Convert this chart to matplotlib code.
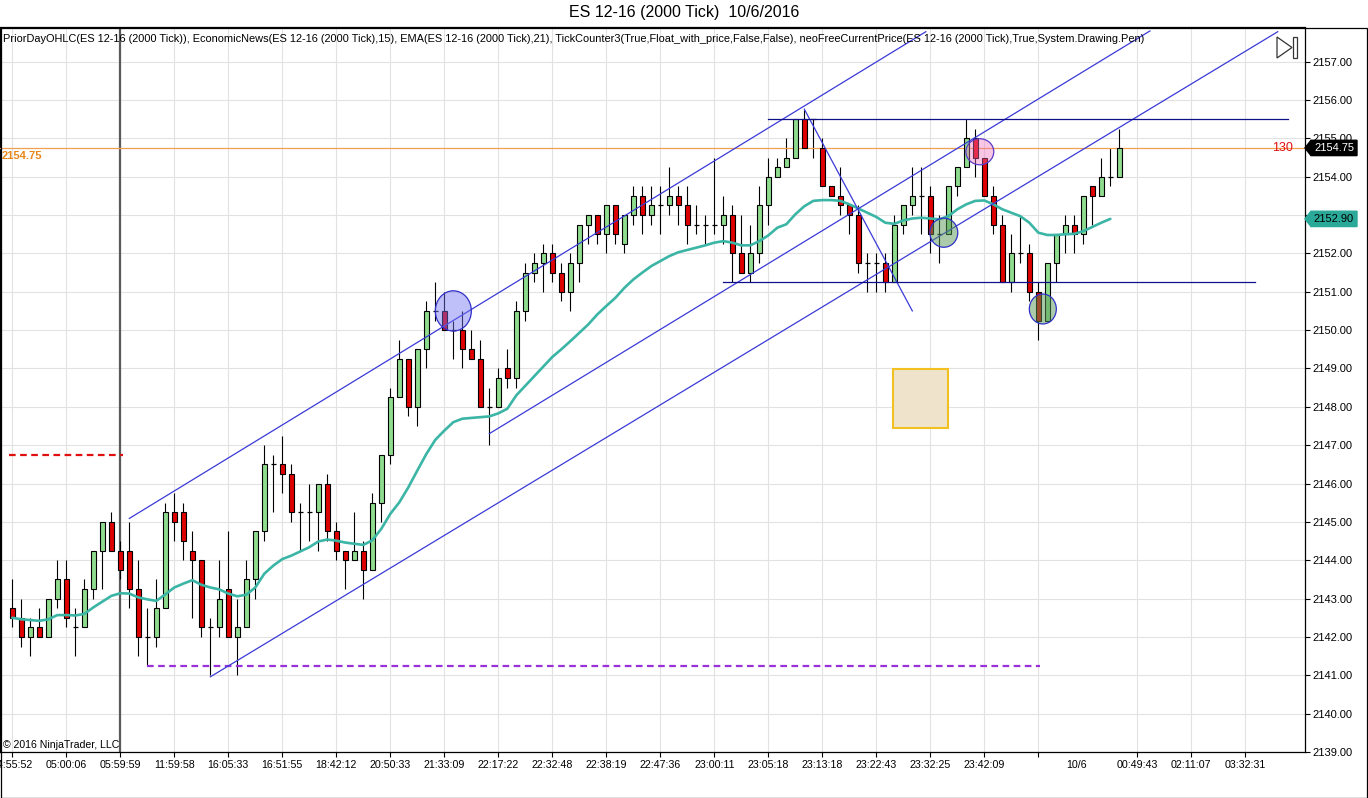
import numpy as np
import matplotlib
matplotlib.use('Agg')
import matplotlib.pyplot as plt
import matplotlib.patches as patches

plt.rcParams['font.family'] = ['Liberation Sans', 'DejaVu Sans']

# --------------------------
# Bars (2000 tick)
# --------------------------
opens = [2142.75, 2142.5, 2142.0, 2142.25, 2142.0, 2143.0, 2143.5, 2142.25, 2142.25, 2143.25,
         2144.25, 2145.0, 2144.25, 2144.25, 2143.25, 2142.0, 2142.0, 2142.75, 2145.25, 2145.25,
         2144.25, 2144.0, 2142.25, 2142.25, 2143.25, 2142.0, 2142.25, 2143.5, 2144.75, 2146.5,
         2146.5, 2146.25, 2145.25, 2145.25, 2145.25, 2146.0, 2144.75, 2144.25, 2144.0, 2144.25,
         2143.75, 2145.5, 2146.75, 2148.25, 2149.25, 2148.0, 2149.5, 2150.5, 2150.5, 2150.0,
         2150.0, 2149.5, 2149.25, 2148.0, 2148.0, 2149.0, 2148.75, 2150.5, 2151.5, 2151.75,
         2152.0, 2151.5, 2151.0, 2151.75, 2152.75, 2153.0, 2152.5, 2153.25, 2152.25, 2153.0,
         2153.5, 2153.0, 2153.25, 2153.25, 2153.5, 2153.25, 2152.75, 2152.75, 2152.75, 2152.75,
         2153.0, 2152.0, 2151.5, 2152.0, 2153.25, 2154.0, 2154.25, 2154.5, 2155.5, 2155.5,
         2154.75, 2153.75, 2153.5, 2153.25, 2153.0, 2151.75, 2151.75, 2151.75, 2151.25, 2152.75,
         2153.25, 2153.5, 2153.5, 2152.5, 2152.5, 2153.75, 2154.25, 2155.0, 2154.5, 2153.5,
         2152.75, 2151.25, 2152.0, 2152.0, 2151.0, 2150.25, 2151.75, 2152.5, 2152.75, 2152.5,
         2153.75, 2153.5, 2154.0, 2154.0]
highs = [2143.5, 2143.0, 2142.5, 2142.75, 2143.0, 2144.0, 2144.0, 2142.75, 2143.5, 2144.25,
         2145.0, 2145.25, 2144.5, 2145.0, 2144.0, 2142.75, 2143.5, 2145.5, 2145.75, 2145.5,
         2144.75, 2144.0, 2142.5, 2144.0, 2144.75, 2143.0, 2144.0, 2144.75, 2147.0, 2146.75,
         2147.25, 2146.5, 2145.5, 2146.0, 2146.0, 2146.25, 2145.0, 2144.25, 2145.25, 2144.5,
         2145.75, 2146.75, 2148.5, 2149.75, 2149.25, 2149.5, 2150.75, 2151.25, 2151.0, 2150.25,
         2150.5, 2150.0, 2149.75, 2148.5, 2149.0, 2149.5, 2150.75, 2151.75, 2152.0, 2152.25,
         2152.25, 2151.75, 2152.0, 2152.75, 2153.0, 2153.0, 2153.25, 2153.25, 2153.0, 2153.75,
         2153.75, 2153.75, 2153.75, 2154.25, 2153.75, 2153.75, 2153.25, 2153.0, 2154.5, 2153.5,
         2153.25, 2153.0, 2152.75, 2153.75, 2154.5, 2154.5, 2155.0, 2155.5, 2155.75, 2155.5,
         2155.0, 2153.75, 2154.25, 2153.25, 2153.25, 2152.0, 2152.0, 2152.0, 2153.0, 2153.25,
         2154.25, 2154.25, 2153.75, 2153.0, 2153.75, 2154.25, 2155.5, 2155.25, 2154.5, 2153.75,
         2153.0, 2152.5, 2153.0, 2152.25, 2151.25, 2151.75, 2152.5, 2153.0, 2153.0, 2153.5,
         2153.75, 2154.5, 2154.75, 2155.25]
lows = [2142.25, 2141.75, 2141.5, 2142.0, 2142.0, 2142.75, 2142.25, 2141.5, 2142.25, 2143.0,
        2143.25, 2144.25, 2143.5, 2142.75, 2141.5, 2141.25, 2141.75, 2142.75, 2144.5, 2144.0,
        2142.5, 2142.0, 2141.0, 2142.0, 2142.0, 2141.0, 2142.25, 2143.0, 2144.5, 2145.25,
        2145.75, 2145.0, 2144.25, 2144.5, 2144.25, 2144.5, 2144.0, 2143.25, 2144.0, 2143.0,
        2143.75, 2145.0, 2146.5, 2148.25, 2147.75, 2147.5, 2149.0, 2150.25, 2150.0, 2149.25,
        2149.0, 2149.25, 2148.0, 2147.0, 2148.0, 2148.5, 2148.5, 2150.25, 2151.25, 2151.0,
        2151.25, 2150.75, 2150.5, 2151.25, 2152.25, 2152.25, 2152.0, 2152.25, 2152.0, 2152.75,
        2152.5, 2152.75, 2152.5, 2153.0, 2152.75, 2152.25, 2152.5, 2152.25, 2152.5, 2152.25,
        2151.25, 2151.5, 2151.25, 2151.75, 2152.75, 2154.0, 2154.25, 2154.5, 2154.75, 2154.5,
        2153.75, 2153.5, 2153.0, 2152.5, 2151.5, 2151.0, 2151.0, 2151.0, 2151.25, 2152.5,
        2153.0, 2152.5, 2152.0, 2151.75, 2152.5, 2153.5, 2154.25, 2154.0, 2153.5, 2152.5,
        2151.25, 2151.0, 2151.75, 2150.75, 2149.75, 2150.25, 2151.25, 2152.0, 2152.0, 2152.25,
        2152.75, 2153.5, 2153.75, 2154.0]
closes = [2142.5, 2142.0, 2142.25, 2142.0, 2143.0, 2143.5, 2142.5, 2142.25, 2143.25, 2144.25,
          2145.0, 2144.25, 2143.75, 2143.25, 2142.0, 2142.0, 2142.75, 2145.25, 2145.0, 2144.5,
          2144.0, 2142.25, 2142.25, 2143.0, 2142.0, 2142.25, 2143.5, 2144.75, 2146.5, 2146.5,
          2146.25, 2145.25, 2145.25, 2145.25, 2146.0, 2144.75, 2144.25, 2144.0, 2144.25, 2143.75,
          2145.5, 2146.75, 2148.25, 2149.25, 2148.0, 2149.5, 2150.5, 2150.5, 2150.0, 2150.0,
          2149.5, 2149.25, 2148.0, 2148.0, 2148.75, 2148.75, 2150.5, 2151.5, 2151.75, 2152.0,
          2151.5, 2151.0, 2151.75, 2152.75, 2153.0, 2152.5, 2153.25, 2152.5, 2153.0, 2153.5,
          2153.0, 2153.25, 2153.25, 2153.5, 2153.25, 2152.75, 2152.75, 2152.75, 2152.75, 2153.0,
          2152.0, 2151.5, 2152.0, 2153.25, 2154.0, 2154.25, 2154.5, 2155.5, 2154.75, 2155.5,
          2153.75, 2153.5, 2153.25, 2153.0, 2151.75, 2151.75, 2151.75, 2151.25, 2152.75, 2153.25,
          2153.5, 2153.5, 2152.5, 2152.5, 2153.75, 2154.25, 2155.0, 2154.5, 2153.5, 2152.75,
          2151.25, 2152.0, 2152.0, 2151.0, 2150.25, 2151.75, 2152.5, 2152.75, 2152.5, 2153.5,
          2153.5, 2154.0, 2154.0, 2154.75]

# EMA(21) as plotted (no value on the forming bar)
ema21 = [2142.5, 2142.46, 2142.44, 2142.42, 2142.46, 2142.57, 2142.57, 2142.56, 2142.6, 2142.77,
         2142.92, 2143.07, 2143.14, 2143.13, 2143.03, 2142.98, 2142.94, 2143.11, 2143.29, 2143.39,
         2143.48, 2143.36, 2143.29, 2143.24, 2143.13, 2143.06, 2143.1, 2143.29, 2143.65, 2143.86,
         2144.03, 2144.12, 2144.23, 2144.34, 2144.49, 2144.54, 2144.51, 2144.46, 2144.43, 2144.4,
         2144.52, 2144.82, 2145.21, 2145.51, 2145.9, 2146.34, 2146.77, 2147.14, 2147.38, 2147.6,
         2147.69, 2147.71, 2147.73, 2147.75, 2147.83, 2147.95, 2148.3, 2148.55, 2148.8, 2149.05,
         2149.3, 2149.5, 2149.71, 2149.93, 2150.15, 2150.41, 2150.63, 2150.84, 2151.1, 2151.32,
         2151.5, 2151.67, 2151.8, 2151.93, 2152.03, 2152.09, 2152.15, 2152.21, 2152.28, 2152.32,
         2152.28, 2152.21, 2152.21, 2152.32, 2152.47, 2152.67, 2152.76, 2153.02, 2153.23, 2153.37,
         2153.39, 2153.39, 2153.37, 2153.28, 2153.17, 2153.06, 2152.95, 2152.8, 2152.77, 2152.86,
         2152.91, 2152.93, 2152.91, 2152.89, 2152.97, 2153.15, 2153.28, 2153.37, 2153.38, 2153.28,
         2153.15, 2153.06, 2152.97, 2152.8, 2152.54, 2152.48, 2152.48, 2152.5, 2152.51, 2152.58,
         2152.69, 2152.8, 2152.9, np.nan]

time_ticks = [0, 6, 12, 18, 24, 30, 36, 42, 48, 54, 60, 66, 72, 78, 84, 90, 96, 102, 108, 114,
              125, 131, 137]
time_labels = ['04:55:52', '05:00:06', '05:59:59', '11:59:58', '16:05:33', '16:51:55', '18:42:12',
               '20:50:33', '21:33:09', '22:17:22', '22:32:48', '22:38:19', '22:47:36', '23:00:11',
               '23:05:18', '23:13:18', '23:22:43', '23:32:25', '23:42:09', '', '00:49:43',
               '02:11:07', '03:32:31']
date_tick = 118.3
date_label = '10/6'

price_ticks = list(range(2139, 2158))
last_price = 2154.75
ema_last = 2152.90
prior_close = 2146.75
prior_low = 2141.25
tick_count = '130'

title = 'ES 12-16 (2000 Tick)  10/6/2016'
indicators = ('PriorDayOHLC(ES 12-16 (2000 Tick)), EconomicNews(ES 12-16 (2000 Tick),15), '
              'EMA(ES 12-16 (2000 Tick),21), TickCounter3(True,Float_with_price,False,False), '
              'neoFreeCurrentPrice(ES 12-16 (2000 Tick),True,System.Drawing.Pen)')

# --------------------------
# Figure / axes layout (pixels of the 1368x798 screenshot)
# --------------------------
W, H = 1368, 798
fig = plt.figure(figsize=(W / 100, H / 100), dpi=100)
ax_left, ax_right, ax_top, ax_bottom = 0, 1305, 27.5, 752
ax = fig.add_axes([ax_left / W, 1 - ax_bottom / H, (ax_right - ax_left) / W, (ax_bottom - ax_top) / H])

n = len(opens)
idx = np.arange(n)
o = np.array(opens)
hi = np.array(highs)
lo = np.array(lows)
c = np.array(closes)

ax.set_xlim(-1.37, 143.63)
ax.set_ylim(2139.0, 2157.89)

green = '#8fdc8f'
red = '#e00000'
bw = 0.56

# wicks
ax.vlines(idx, lo, hi, color='black', lw=0.8, zorder=3)
# bodies
up = c > o
dn = c < o
flat = c == o
ax.bar(idx[up], (c - o)[up], bottom=o[up], width=bw, color=green, edgecolor='black', lw=0.8, zorder=4)
ax.bar(idx[dn], (o - c)[dn], bottom=c[dn], width=bw, color=red, edgecolor='black', lw=0.8, zorder=4)
ax.hlines(c[flat], idx[flat] - bw / 2, idx[flat] + bw / 2, color='black', lw=0.9, zorder=4)

# EMA
ax.plot(idx, ema21, color='#3bb5a5', lw=1.9, zorder=5, solid_capstyle='round')

# session break
ax.axvline(12, color='#5a5a5a', lw=1.6, zorder=2)

# prior day lines
ax.plot([-0.37, 12.27], [prior_close, prior_close], color='#e01010', lw=1.6, ls=(0, (3, 2)), zorder=3)
ax.plot([15.0, 114.2], [prior_low, prior_low], color='#9a30d8', lw=1.6, ls=(0, (3, 2)), zorder=3)

# current price line
ax.axhline(last_price, color='#f0a050', lw=0.9, zorder=3)

# drawing objects: channel lines
chan = '#3a3ad8'
ax.plot([13.0, 101.5], [2145.09, 2157.78], color=chan, lw=0.9, zorder=6)
ax.plot([53.0, 126.4], [2147.3, 2157.8], color=chan, lw=0.9, zorder=6)
ax.plot([22.0, 140.6], [2140.96, 2157.78], color=chan, lw=0.9, zorder=6)
ax.plot([88.0, 100.0], [2155.76, 2150.5], color=chan, lw=0.9, zorder=6)
ax.plot([84.0, 141.7], [2155.5, 2155.5], color='#10108a', lw=0.9, zorder=6)
ax.plot([79.0, 138.1], [2151.25, 2151.25], color='#10108a', lw=0.9, zorder=6)

# ellipses
ax.add_patch(patches.Ellipse((49.0, 2150.5), 4.0, 1.05, facecolor=(0.45, 0.45, 0.95, 0.45),
                             edgecolor='#3030c8', lw=0.9, zorder=7))
ax.add_patch(patches.Ellipse((103.5, 2152.54), 3.1, 0.76, facecolor=(0.35, 0.6, 0.35, 0.5),
                             edgecolor='#3030c8', lw=0.9, zorder=7))
ax.add_patch(patches.Ellipse((107.5, 2154.65), 3.1, 0.68, facecolor=(0.95, 0.45, 0.75, 0.4),
                             edgecolor='#5a3ac8', lw=0.9, zorder=7))
ax.add_patch(patches.Ellipse((114.5, 2150.55), 3.0, 0.78, facecolor=(0.35, 0.6, 0.35, 0.5),
                             edgecolor='#3030c8', lw=0.9, zorder=7))

# rectangle
ax.add_patch(patches.Rectangle((97.86, 2147.45), 6.1, 1.54, facecolor='#efe3cc',
                               edgecolor='#f2c020', lw=1.5, zorder=2))

# --------------------------
# Axes styling
# --------------------------
ax.set_axisbelow(True)
ax.grid(True, color='#e2e2e2', lw=0.8)
for s in ax.spines.values():
    s.set_color('black')
    s.set_linewidth(0.9)

ax.yaxis.tick_right()
ax.set_yticks(price_ticks)
# the 2153.00 label sits under the EMA tag
ax.set_yticklabels(['' if v == 2153 else f'{v:.2f}' for v in price_ticks])
ax.tick_params(axis='y', direction='out', length=3.6, pad=2, labelsize=8, width=0.8)

ax.set_xticks(time_ticks)
ax.set_xticklabels(time_labels)
ax.set_xticks([date_tick], minor=True)
ax.set_xticklabels([date_label], minor=True)
ax.tick_params(axis='x', which='major', direction='out', length=3.6, pad=2, labelsize=7.7, width=0.8)
ax.tick_params(axis='x', which='minor', length=0, pad=5.6, labelsize=7.7)

# texts inside the panel
ax.text(3 / 1305, (752 - 39) / 724.5, indicators, transform=ax.transAxes, fontsize=7.95,
        ha='left', va='center', zorder=8)
ax.text(3 / 1305, (752 - 745) / 724.5, '\u00a9 2016 NinjaTrader, LLC', transform=ax.transAxes,
        fontsize=7.6, ha='left', va='center', zorder=8)
ax.text(-1.2, last_price - 0.08, f'{last_price:.2f}', color='#e8861a', fontsize=8,
        fontweight='bold', ha='left', va='top', zorder=8)
ax.text(141.1, last_price, tick_count, color='#e01010', fontsize=9, ha='center', va='center', zorder=8)

# right-axis price tags
ytr = ax.get_yaxis_transform()
def tag(y, face, txt_color, label):
    hh = 0.2
    px = 1 / 1305
    pts = [(1.0, y), (1 + 6 * px, y + hh), (1 + 52 * px, y + hh), (1 + 52 * px, y - hh), (1 + 6 * px, y - hh)]
    ax.add_patch(patches.Polygon(pts, closed=True, facecolor=face, edgecolor=face, transform=ytr,
                                 clip_on=False, zorder=9))
    ax.text(1 + 29 * px, y, label, transform=ytr, color=txt_color, fontsize=8, ha='center',
            va='center', clip_on=False, zorder=10)

tag(last_price, 'black', 'white', f'{last_price:.2f}')
tag(ema_last, '#2aa898', 'black', f'{ema_last:.2f}')

# scroll-to-end icon
def axfrac(px_x, px_y):
    return (px_x / 1305, (752 - px_y) / 724.5)

ax.add_patch(patches.Polygon([axfrac(1277, 37), axfrac(1277, 58), axfrac(1292, 47.5)], closed=True,
                             fill=False, edgecolor='#333333', lw=0.9, transform=ax.transAxes, zorder=9))
ax.add_patch(patches.Polygon([axfrac(1292.5, 37), axfrac(1297, 37), axfrac(1297, 58), axfrac(1292.5, 58)],
                             closed=True, fill=False, edgecolor='#333333', lw=0.9, transform=ax.transAxes,
                             zorder=9))

# title and outer frame
fig.text(0.5, 1 - 13 / H, title, ha='center', va='center', fontsize=11.5)
fig.add_artist(patches.Rectangle((0.5 / W, 0.5 / H), (W - 1.5) / W, (H - 28) / H, fill=False,
                                 edgecolor='black', lw=0.9, transform=fig.transFigure))

fig.savefig('out.png', dpi=100)
